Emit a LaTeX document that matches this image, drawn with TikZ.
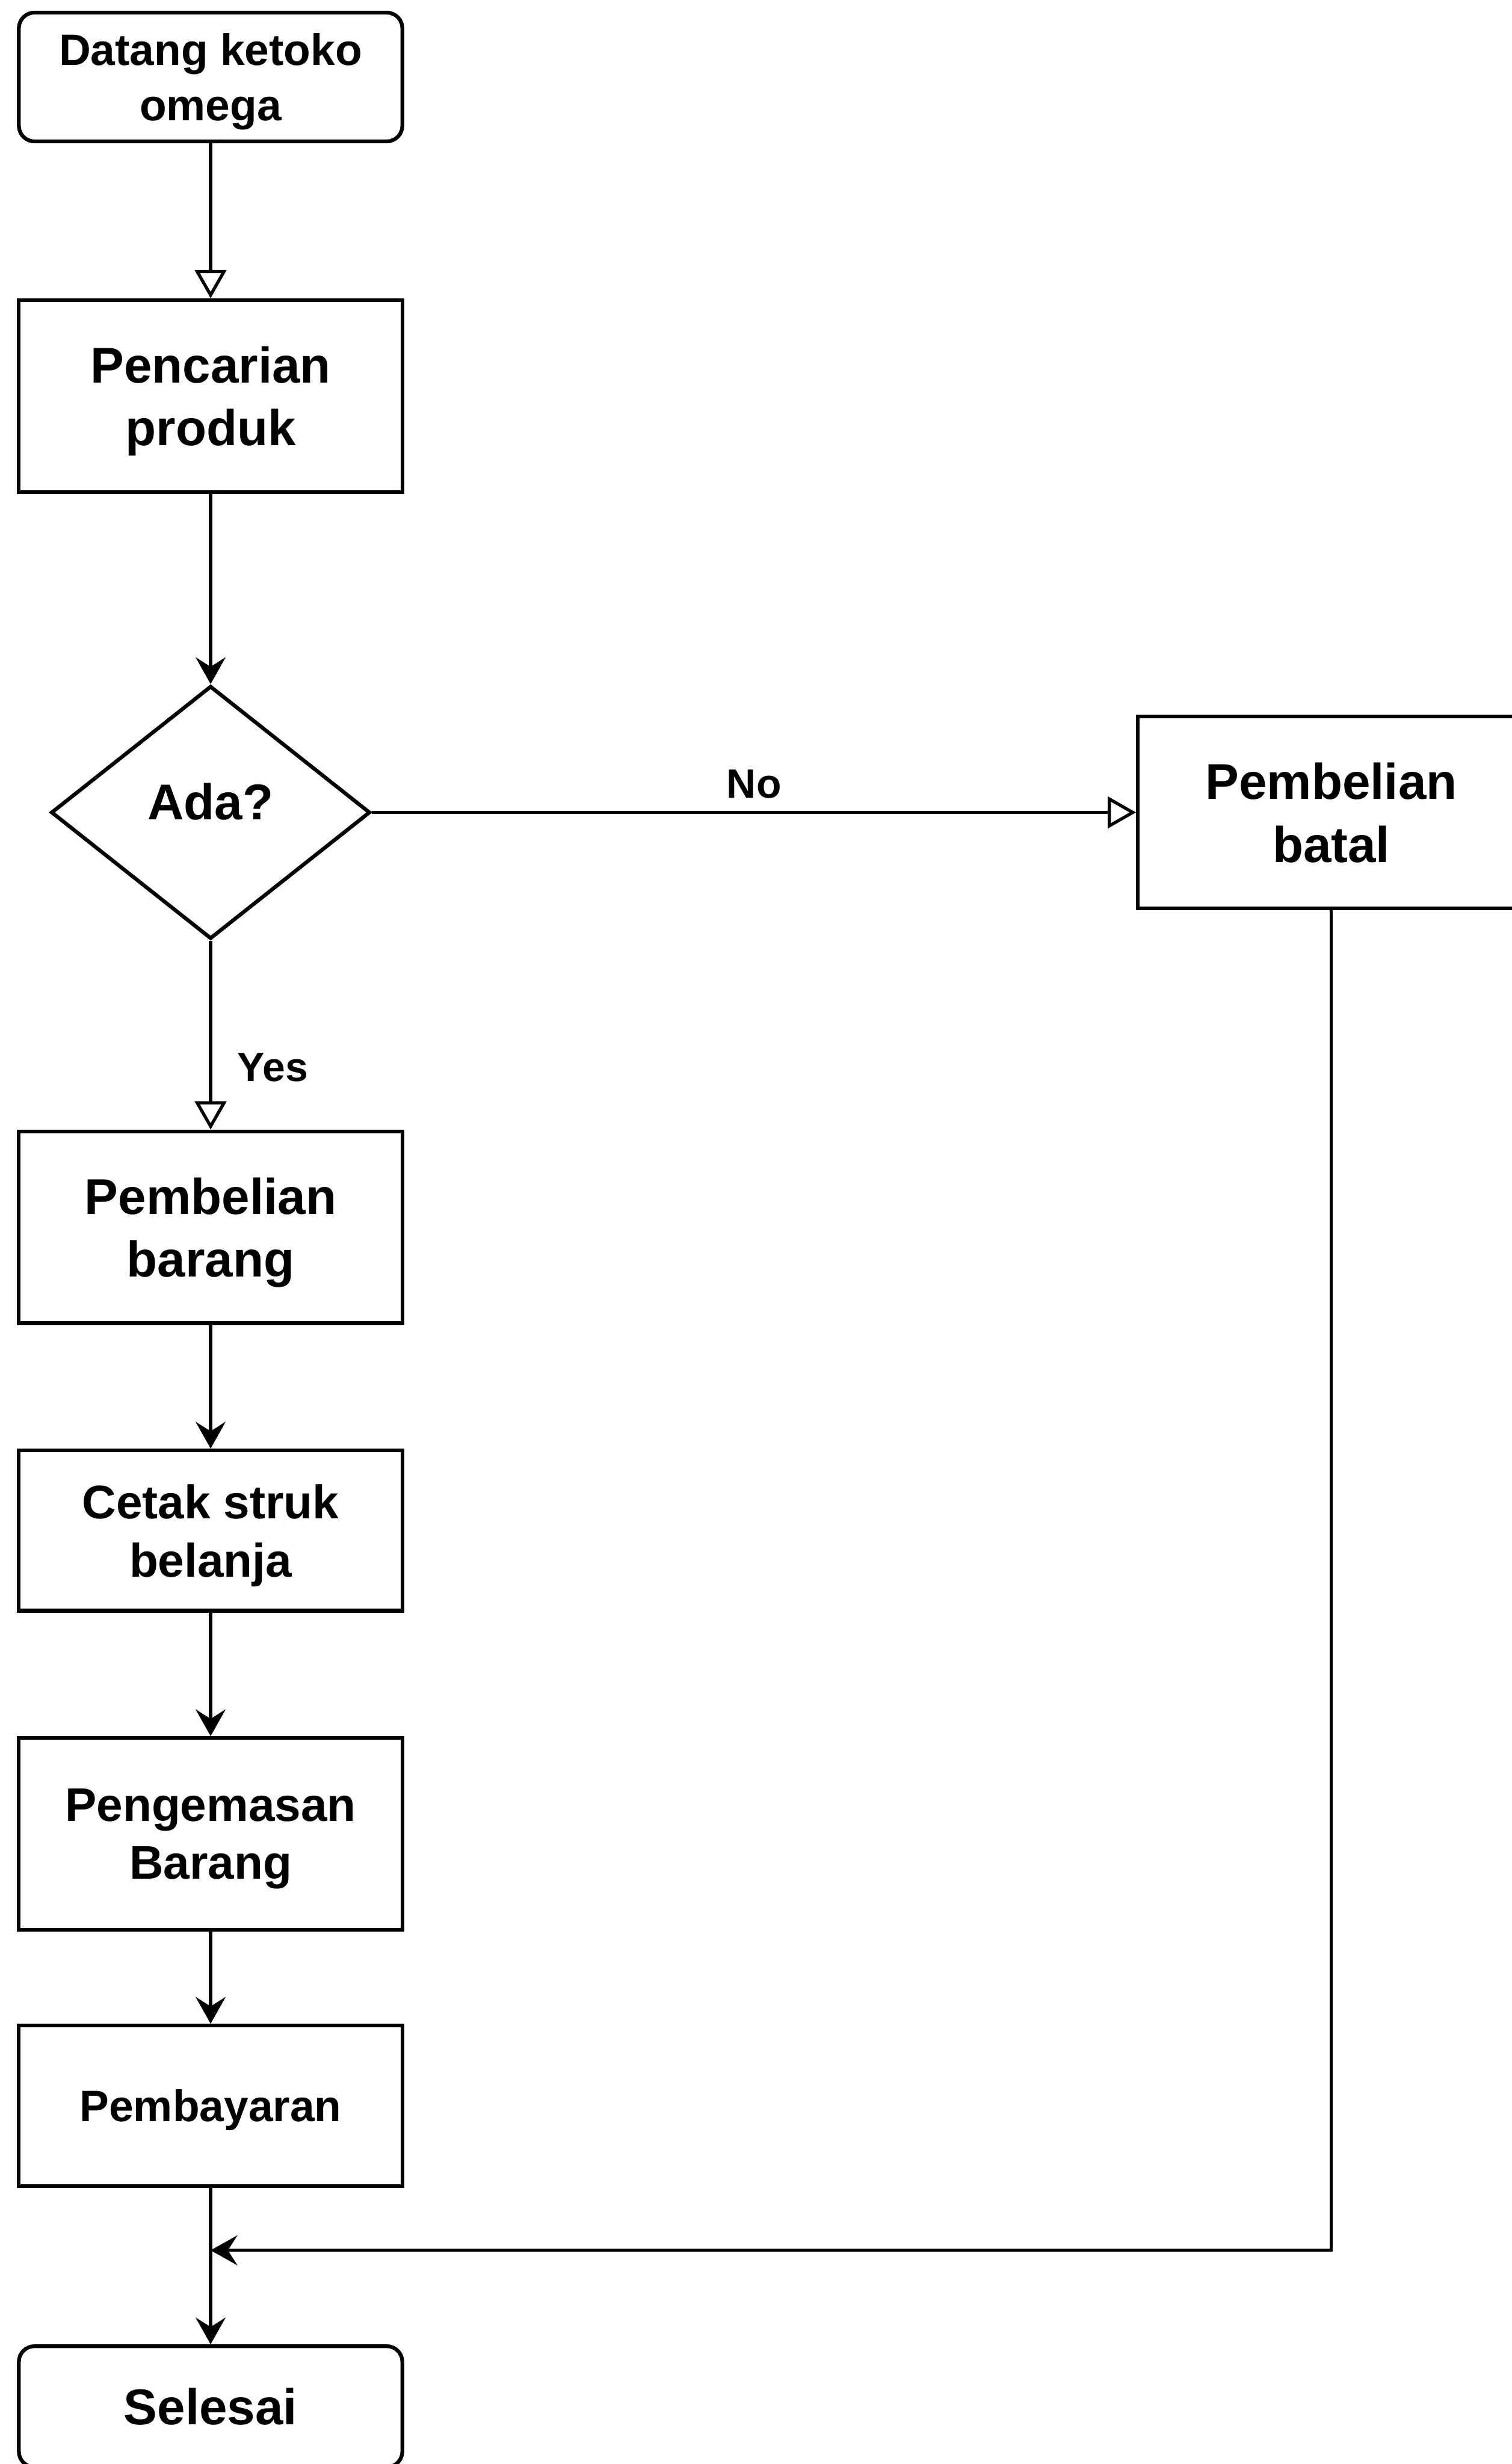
\documentclass[tikz,border=0pt]{standalone}
\usepackage{fontspec}
\setmainfont{Liberation Sans}
\usetikzlibrary{arrows.meta,shapes.geometric,positioning}
\begin{document}
\begin{tikzpicture}[every node/.style={draw,line width=1.2pt,align=center,minimum width=122pt,inner sep=2pt,text depth=0pt},
    proc/.style={rectangle,minimum height=61pt},
    ends/.style={rectangle,rounded corners=5pt},
    cond/.style={diamond,minimum width=101.5pt,minimum height=80.5pt,inner sep=0pt,text depth=7pt},
    lbl/.style={draw=none,minimum width=0pt,font=\bfseries\fontsize{13pt}{15pt}\selectfont},
    bigtxt/.style={font=\bfseries\fontsize{16pt}{20pt}\selectfont},
    midtxt/.style={font=\bfseries\fontsize{15pt}{18.5pt}\selectfont},
    smalltxt/.style={font=\bfseries\fontsize{14pt}{17.5pt}\selectfont},
    flow/.style={line width=1pt,-{Stealth[length=8.5pt,width=9.5pt,inset=3pt]}},
    hollow/.style={line width=1pt,-{Triangle[open,length=9pt,width=10pt]}}]
    \useasboundingbox (0,0) rectangle (481pt,-784pt);
    \node[ends,smalltxt,minimum height=41pt] (start) at (67pt,-24.5pt) {Datang ketoko\\omega};
    \node[proc,bigtxt,below of=start,node distance=101.5pt] (cari) {Pencarian\\produk};
    \node[cond,bigtxt,below of=cari,node distance=132.5pt] (ada) {Ada?};
    \node[proc,bigtxt,right of=ada,node distance=356.5pt,minimum width=123pt] (batal) {Pembelian\\batal};
    \node[proc,bigtxt,below of=ada,node distance=132pt] (beli) {Pembelian\\barang};
    \node[proc,midtxt,below of=beli,node distance=96.5pt,minimum height=51pt] (cetak) {Cetak struk\\belanja};
    \node[proc,midtxt,below of=cetak,node distance=96.5pt] (kemas) {Pengemasan\\Barang};
    \node[proc,smalltxt,below of=kemas,node distance=86.5pt,minimum height=51pt] (bayar) {Pembayaran};
    \node[ends,bigtxt,below of=bayar,node distance=95.75pt,minimum height=38.5pt] (selesai) {Selesai};
    \coordinate (join) at (bayar.south |- 0,-716pt);
    \draw[hollow] (start) -- (cari);
    \draw[flow] (cari) -- (ada);
    \draw[hollow] (ada) -- node[lbl,above=2pt,pos=0.5] {No} (batal);
    \draw[hollow] (ada) -- node[lbl,right=6pt,pos=0.67] {Yes} (beli);
    \draw[flow] (beli) -- (cetak);
    \draw[flow] (cetak) -- (kemas);
    \draw[flow] (kemas) -- (bayar);
    \draw[flow] (bayar) -- (selesai);
    \draw[flow] (batal.south) |- (join);
\end{tikzpicture}
\end{document}
